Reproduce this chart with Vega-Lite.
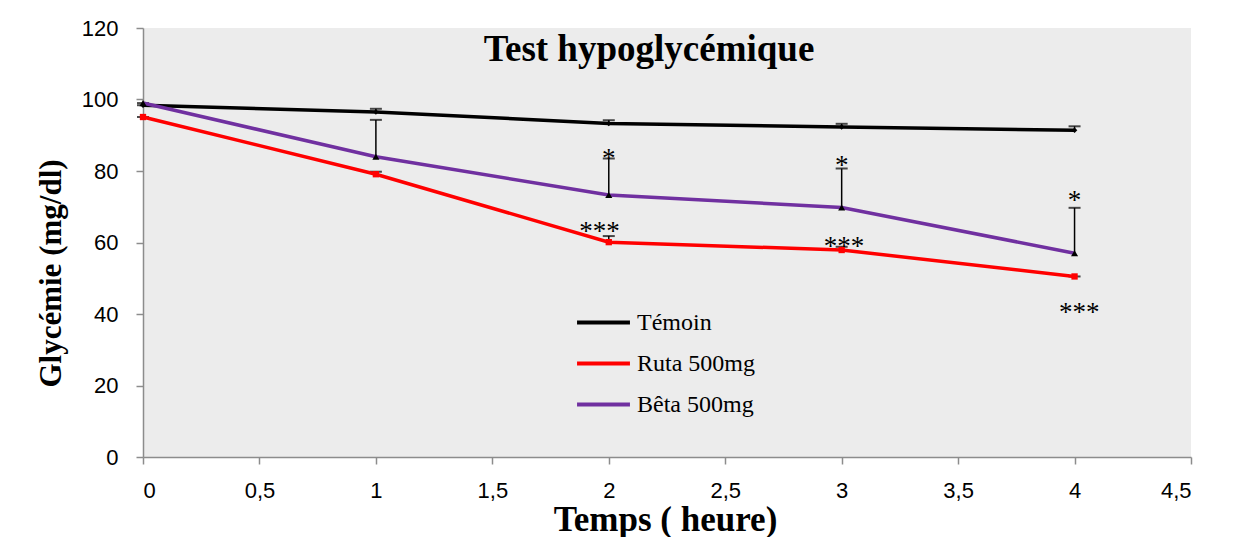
{
  "$schema": "https://vega.github.io/schema/vega-lite/v6.json",
  "autosize": "none",
  "width": 1048,
  "height": 429,
  "padding": {"left": 143, "top": 28, "right": 43, "bottom": 80},
  "background": "white",
  "title": {
    "text": "Test hypoglycémique",
    "font": "Liberation Serif",
    "fontSize": 37,
    "fontWeight": "bold",
    "color": "black",
    "anchor": "middle",
    "dx": -18,
    "offset": -52
  },
  "datasets": {
    "series": [
      {"serie": "Témoin", "temps": 0, "glycemie": 98.4, "haut": 98.4},
      {"serie": "Témoin", "temps": 1, "glycemie": 96.5, "haut": 97.4},
      {"serie": "Témoin", "temps": 2, "glycemie": 93.3, "haut": 94.2},
      {"serie": "Témoin", "temps": 3, "glycemie": 92.3, "haut": 93.2},
      {"serie": "Témoin", "temps": 4, "glycemie": 91.4, "haut": 92.5},
      {"serie": "Ruta 500mg", "temps": 0, "glycemie": 95.1, "haut": 95.1},
      {"serie": "Ruta 500mg", "temps": 1, "glycemie": 79.1, "haut": 79.8},
      {"serie": "Ruta 500mg", "temps": 2, "glycemie": 60.1, "haut": 61.8},
      {"serie": "Ruta 500mg", "temps": 3, "glycemie": 57.9, "haut": 58.8},
      {"serie": "Ruta 500mg", "temps": 4, "glycemie": 50.5, "haut": 50.5},
      {"serie": "Bêta 500mg", "temps": 0, "glycemie": 99.0, "haut": 99.0},
      {"serie": "Bêta 500mg", "temps": 1, "glycemie": 84.0, "haut": 94.3},
      {"serie": "Bêta 500mg", "temps": 2, "glycemie": 73.3, "haut": 83.5},
      {"serie": "Bêta 500mg", "temps": 3, "glycemie": 69.8, "haut": 80.7},
      {"serie": "Bêta 500mg", "temps": 4, "glycemie": 57.0, "haut": 69.7}
    ],
    "stars": [
      {"temps": 2, "glycemie": 85.2, "label": "*"},
      {"temps": 3, "glycemie": 83.3, "label": "*"},
      {"temps": 4, "glycemie": 73.5, "label": "*"},
      {"temps": 1.96, "glycemie": 64.8, "label": "***"},
      {"temps": 3.01, "glycemie": 60.8, "label": "***"},
      {"temps": 4.02, "glycemie": 42.3, "label": "***"}
    ]
  },
  "config": {
    "view": {"fill": "#ececec", "stroke": null},
    "axis": {
      "grid": false,
      "domainColor": "#8c8c8c",
      "tickColor": "#8c8c8c",
      "domainWidth": 1.5,
      "tickWidth": 1.5,
      "tickSize": 7,
      "labelFont": "Liberation Sans",
      "labelFontSize": 22,
      "labelColor": "black",
      "titleFont": "Liberation Serif",
      "titleFontWeight": "bold",
      "titleColor": "black"
    }
  },
  "layer": [
    {
      "data": {"name": "series"},
      "mark": {"type": "rule", "color": "black", "strokeWidth": 1.5},
      "encoding": {
        "x": {"field": "temps", "type": "quantitative"},
        "y": {"field": "glycemie", "type": "quantitative"},
        "y2": {"field": "haut"}
      }
    },
    {
      "data": {"name": "series"},
      "mark": {"type": "tick", "orient": "horizontal", "color": "black", "size": 12, "thickness": 2},
      "encoding": {
        "x": {"field": "temps", "type": "quantitative"},
        "y": {"field": "haut", "type": "quantitative"}
      }
    },
    {
      "data": {"name": "series"},
      "mark": {"type": "line", "strokeWidth": 3.5},
      "encoding": {
        "x": {
          "field": "temps",
          "type": "quantitative",
          "scale": {"domain": [0, 4.5], "nice": false},
          "axis": {
            "values": [0, 0.5, 1, 1.5, 2, 2.5, 3, 3.5, 4, 4.5],
            "labelExpr": "replace(format(datum.value, '.1~f'), '.', ',')",
            "labelPadding": 16,
            "title": "Temps ( heure)",
            "titleFontSize": 35,
            "titleX": 522,
            "titleY": 62,
            "titleBaseline": "middle",
            "titleAlign": "center"
          }
        },
        "y": {
          "field": "glycemie",
          "type": "quantitative",
          "scale": {"domain": [0, 120], "nice": false},
          "axis": {
            "values": [0, 20, 40, 60, 80, 100, 120],
            "labelPadding": 18,
            "title": "Glycémie (mg/dl)",
            "titleFontSize": 31,
            "titleAngle": -90,
            "titleX": -92,
            "titleY": 245,
            "titleAlign": "center",
            "titleBaseline": "middle"
          }
        },
        "color": {
          "field": "serie",
          "type": "nominal",
          "scale": {
            "domain": ["Témoin", "Ruta 500mg", "Bêta 500mg"],
            "range": ["#000000", "#ff0000", "#7030a0"]
          },
          "legend": {
            "title": null,
            "orient": "none",
            "legendX": 432,
            "legendY": 266,
            "symbolType": "stroke",
            "symbolStrokeWidth": 4,
            "symbolSize": 2800,
            "labelFont": "Liberation Serif",
            "labelFontSize": 24,
            "labelColor": "black",
            "rowPadding": -16,
            "labelOffset": 5
          }
        }
      }
    },
    {
      "data": {"name": "series"},
      "mark": {"type": "point", "filled": true, "opacity": 1},
      "encoding": {
        "x": {"field": "temps", "type": "quantitative"},
        "y": {"field": "glycemie", "type": "quantitative"},
        "shape": {
          "field": "serie",
          "type": "nominal",
          "scale": {
            "domain": ["Témoin", "Ruta 500mg", "Bêta 500mg"],
            "range": ["diamond", "square", "triangle-up"]
          },
          "legend": null
        },
        "color": {
          "field": "serie",
          "type": "nominal",
          "scale": {
            "domain": ["Témoin", "Ruta 500mg", "Bêta 500mg"],
            "range": ["#000000", "#ff0000", "#000000"]
          },
          "legend": null
        },
        "size": {
          "field": "serie",
          "type": "nominal",
          "scale": {
            "domain": ["Témoin", "Ruta 500mg", "Bêta 500mg"],
            "range": [30, 50, 30]
          },
          "legend": null
        }
      }
    },
    {
      "data": {"name": "stars"},
      "mark": {"type": "text", "font": "Liberation Serif", "fontSize": 27, "color": "black", "baseline": "middle", "dy": 7},
      "encoding": {
        "x": {"field": "temps", "type": "quantitative"},
        "y": {"field": "glycemie", "type": "quantitative"},
        "text": {"field": "label"}
      }
    }
  ],
  "resolve": {"scale": {"color": "independent", "shape": "independent", "size": "independent"}}
}
